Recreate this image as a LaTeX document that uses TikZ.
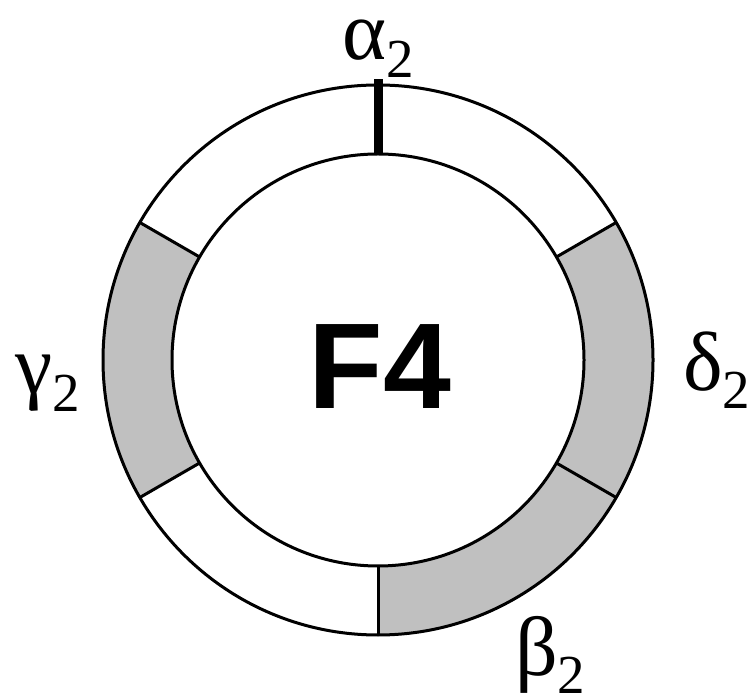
\documentclass[tikz,border=0pt]{standalone}
\usepackage{fontspec}
\usetikzlibrary{calc}
\setmainfont{Liberation Serif}
\newfontfamily\headsans{Liberation Sans}
\newcommand{\subtwo}[1]{{\fontsize{84}{84}\selectfont #1}\raisebox{-18pt}{\fontsize{55}{55}\selectfont 2}}
\begin{document}
\begin{tikzpicture}[x=1pt,y=1pt,
  ringline/.style={line width=3pt,black},
  segfill/.style={fill=segmentgray},
  lbl/.style={anchor=base west,inner sep=0pt}]
\definecolor{segmentgray}{RGB}{192,192,192}
\useasboundingbox (0,0) rectangle (751,698);
\coordinate (c) at (378,338);
\def\Ro{275}\def\Ri{206}
% gray segments
\fill[segfill] ($(c)+(150:\Ro)$) arc[start angle=150,end angle=210,radius=\Ro]
  -- ($(c)+(210:\Ri)$) arc[start angle=210,end angle=150,radius=\Ri] -- cycle;
\fill[segfill] ($(c)+(30:\Ro)$) arc[start angle=30,end angle=-90,radius=\Ro]
  -- ($(c)+(-90:\Ri)$) arc[start angle=-90,end angle=30,radius=\Ri] -- cycle;
% circles
\draw[ringline] (c) circle[radius=\Ro];
\draw[ringline] (c) circle[radius=\Ri];
% dividers
\foreach \a in {30,150,210,-30,-90}
  \draw[ringline] ($(c)+(\a:\Ri)$) -- ($(c)+(\a:\Ro)$);
\draw[line width=9pt] ($(c)+(90:\Ri)$) -- ($(c)+(90:\Ro+6)$);
% labels
\node[lbl] (alpha) at (342,638) {\subtwo{α}};
\node[lbl] (delta) at (683,307) {\subtwo{δ}};
\node[lbl] (beta) at (515,23) {\subtwo{β}};
\node[lbl] (gamma) at (15,304) {\subtwo{γ}};
\node[anchor=base,inner sep=0pt] (f4) at (380,289) {\headsans\bfseries\fontsize{122}{122}\selectfont F4};
\end{tikzpicture}
\end{document}
